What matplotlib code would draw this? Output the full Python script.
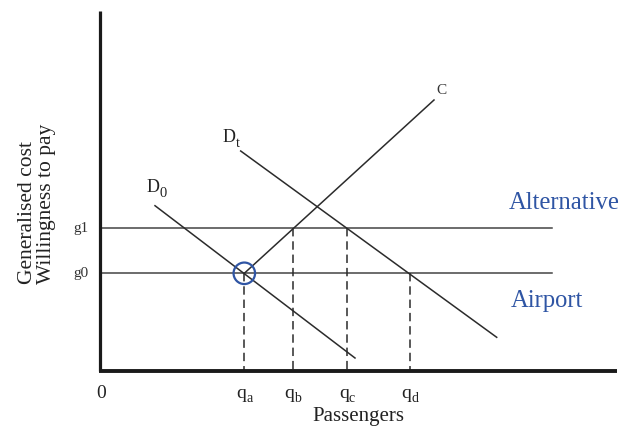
import matplotlib
matplotlib.use("Agg")
import matplotlib.pyplot as plt
from matplotlib.patches import Ellipse
from matplotlib.transforms import offset_copy

plt.rcParams["font.family"] = ["Liberation Serif", "DejaVu Serif"]

# Generalised-cost levels of the two modes
cost_levels = [9.72, 14.22]            # g0 (airport), g1 (alternative)
cost_labels = ["g0", "g1"]
cost_line_end = 45.2

# Passenger quantities marked on the horizontal axis
q_values = [14.43, 19.3, 24.7, 31.0]
q_subs = ["a", "b", "c", "d"]
q_from_level = [0, 1, 1, 0]            # which cost level each dashed drop starts from

# Curves as (x0, y0, x1, y1)
curve_C = [14.43, 9.72, 33.4, 27.05]
curve_D0 = [5.5, 16.48, 25.5, 1.25]
curve_Dt = [14.07, 21.95, 39.67, 3.32]

axis_x_max = 51.7
axis_y_max = 35.95

fig = plt.figure(figsize=(6.22, 4.36), dpi=100)
ax = fig.add_axes([0, 0, 1, 1])
ax.set_xlim(-10.0, 52.2)
ax.set_ylim(-6.55, 37.05)
ax.axis("off")
renderer = fig.canvas.get_renderer()

line_col = "#2b2b2b"
text_col = "#222222"
blue = "#2f55a4"


def subscripted(x, y, main, sub, size, sub_size, drop, ha="left"):
    """Draw `main` with a lowered `sub` right after it; returns both artists."""
    t_main = ax.text(x, y, main, ha="left", va="baseline", fontsize=size, color=text_col)
    w_main = t_main.get_window_extent(renderer).width
    t_sub = ax.text(x, y, sub, ha="left", va="baseline", fontsize=sub_size, color=text_col,
                    transform=offset_copy(ax.transData, fig=fig, x=w_main, y=-drop,
                                          units="dots"))
    if ha == "center":
        w_sub = t_sub.get_window_extent(renderer).width
        shift = -(w_main + w_sub) / 2
        t_main.set_transform(offset_copy(ax.transData, fig=fig, x=shift, y=0, units="dots"))
        t_sub.set_transform(offset_copy(ax.transData, fig=fig, x=w_main + shift, y=-drop,
                                        units="dots"))
    return t_main, t_sub


# Axes of the diagram
ax.plot([0, 0], [axis_y_max, 0], color="#1a1a1a", lw=2.3, solid_capstyle="butt", zorder=3)
ax.plot([-0.11, axis_x_max], [0, 0], color="#1a1a1a", lw=2.8, solid_capstyle="butt", zorder=3)

# Horizontal cost lines
for g in cost_levels:
    ax.plot([0, cost_line_end], [g, g], color="#444444", lw=1.1)

# Supply / demand curves
for c in (curve_C, curve_D0, curve_Dt):
    ax.plot([c[0], c[2]], [c[1], c[3]], color=line_col, lw=1.1)

# Dashed drops to the quantity axis
for q, lev in zip(q_values, q_from_level):
    ax.plot([q, q], [cost_levels[lev], 0], color=line_col, lw=1.1,
            dashes=(5.5, 3.2))

# Equilibrium marker at (qa, g0)
ax.add_patch(Ellipse((q_values[0], cost_levels[0]), 2.15, 2.15, fill=False,
                     edgecolor=blue, lw=1.6, zorder=4))

# Labels
for g, lab in zip(cost_levels, cost_labels):
    ax.text(-1.9, g, lab, ha="center", va="center", fontsize=11, color="#333333")

ax.text(0.07, -2.25, "0", ha="center", va="center", fontsize=14, color=text_col)
for q, sub in zip(q_values, q_subs):
    subscripted(q, -2.75, "q", sub, 14, 10, 4, ha="center")

ax.text(25.8, -4.55, "Passengers", ha="center", va="center", fontsize=15, color=text_col)
ax.text(-6.3, 16.7, "Generalised cost\nWillingness to pay", rotation=90,
        ha="center", va="center", multialignment="left", fontsize=15.5,
        color=text_col, linespacing=1.0)

ax.text(34.17, 28.05, "C", ha="center", va="center", fontsize=11, color="#333333")
subscripted(12.27, 22.88, "D", "t", 13, 10, 5)
subscripted(4.67, 17.88, "D", "0", 13, 10.5, 5)

ax.text(40.9, 16.15, "Alternative", ha="left", va="baseline", fontsize=17.7, color=blue)
ax.text(41.1, 6.38, "Airport", ha="left", va="baseline", fontsize=17.7, color=blue)

fig.savefig("out.png", dpi=100)
